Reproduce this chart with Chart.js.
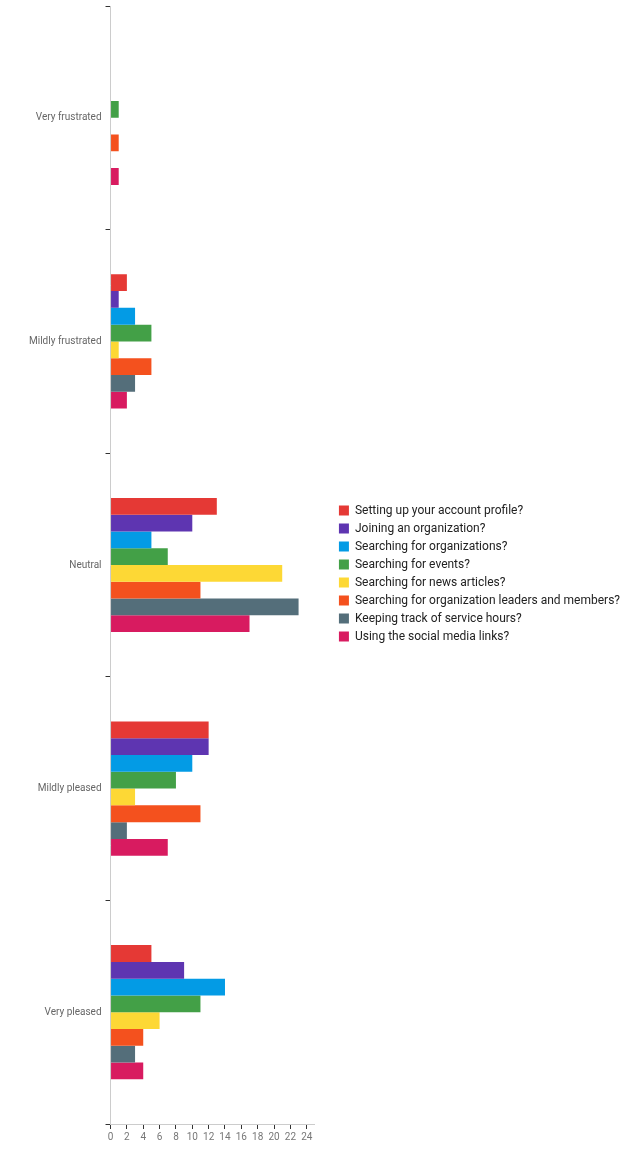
<!DOCTYPE html>
<html>
<head>
<meta charset="utf-8">
<script src="https://cdn.jsdelivr.net/npm/chart.js@4"></script>
<style>
  html, body { margin: 0; padding: 0; background: #fff; }
  #wrap { width: 630px; height: 1152px; }
</style>
</head>
<body>
<div id="wrap"><canvas id="chart"></canvas></div>
<script>
// categories (y axis)
var categories = ['Very frustrated', 'Mildly frustrated', 'Neutral', 'Mildly pleased', 'Very pleased'];

// one series per question
var seriesNames = [
  'Setting up your account profile?',
  'Joining an organization?',
  'Searching for organizations?',
  'Searching for events?',
  'Searching for news articles?',
  'Searching for organization leaders and members?',
  'Keeping track of service hours?',
  'Using the social media links?'
];

var accountProfile   = [0, 2, 13, 12, 5];
var joiningOrg       = [0, 1, 10, 12, 9];
var searchingOrgs    = [0, 3, 5, 10, 14];
var searchingEvents  = [1, 5, 7, 8, 11];
var searchingNews    = [0, 1, 21, 3, 6];
var searchingLeaders = [1, 5, 11, 11, 4];
var serviceHours     = [0, 3, 23, 2, 3];
var socialLinks      = [1, 2, 17, 7, 4];

var seriesColors = ['#e53935', '#5e35b1', '#039be5', '#43a047', '#fdd835', '#f4511e', '#546e7a', '#d81b60'];

var xTicks = [0, 2, 4, 6, 8, 10, 12, 14, 16, 18, 20, 22, 24];

var allSeries = [accountProfile, joiningOrg, searchingOrgs, searchingEvents,
                 searchingNews, searchingLeaders, serviceHours, socialLinks];

var datasets = allSeries.map(function (vals, i) {
  return {
    label: seriesNames[i],
    data: vals,
    backgroundColor: seriesColors[i],
    borderWidth: 0,
    barPercentage: 1,
    categoryPercentage: 0.6
  };
});

// leave a gap between plot area and legend without moving the legend itself
var legendGap = {
  id: 'legendGap',
  afterInit: function (chart) {
    var lg = chart.legend;
    var fit = lg.fit, draw = lg.draw;
    lg.fit = function () { fit.call(this); this.width += 18; };
    lg.draw = function () {
      this.left += 18; this.top -= 2; this.bottom -= 2;
      draw.call(this);
      this.left -= 18; this.top += 2; this.bottom += 2;
    };
  }
};

Chart.defaults.font.family = 'Roboto, sans-serif';

new Chart(document.getElementById('chart'), {
  type: 'bar',
  data: { labels: categories, datasets: datasets },
  plugins: [legendGap],
  options: {
    indexAxis: 'y',
    responsive: true,
    maintainAspectRatio: false,
    animation: false,
    layout: { padding: { top: 6, left: 25, right: 0, bottom: 7 } },
    plugins: {
      tooltip: { enabled: false },
      legend: {
        position: 'right',
        align: 'center',
        maxWidth: 340,
        labels: {
          boxWidth: 10,
          boxHeight: 10,
          padding: 6,
          color: '#222',
          font: { size: 12 }
        }
      }
    },
    scales: {
      x: {
        min: 0,
        max: 25,
        afterBuildTicks: function (axis) {
          axis.ticks = xTicks.map(function (v) { return { value: v }; });
        },
        grid: { display: true, drawOnChartArea: false, tickLength: 5, color: '#333' },
        border: { color: '#ccc' },
        ticks: { color: '#777', font: { size: 10 }, padding: 2, maxRotation: 0 }
      },
      y: {
        afterFit: function (axis) { axis.paddingTop = 0; axis.paddingBottom = 0; },
        grid: { display: true, drawOnChartArea: false, offset: true, tickLength: 5, color: '#333' },
        border: { color: '#ccc' },
        ticks: { color: '#666', font: { size: 10 }, padding: 4 }
      }
    }
  }
});
</script>
</body>
</html>
